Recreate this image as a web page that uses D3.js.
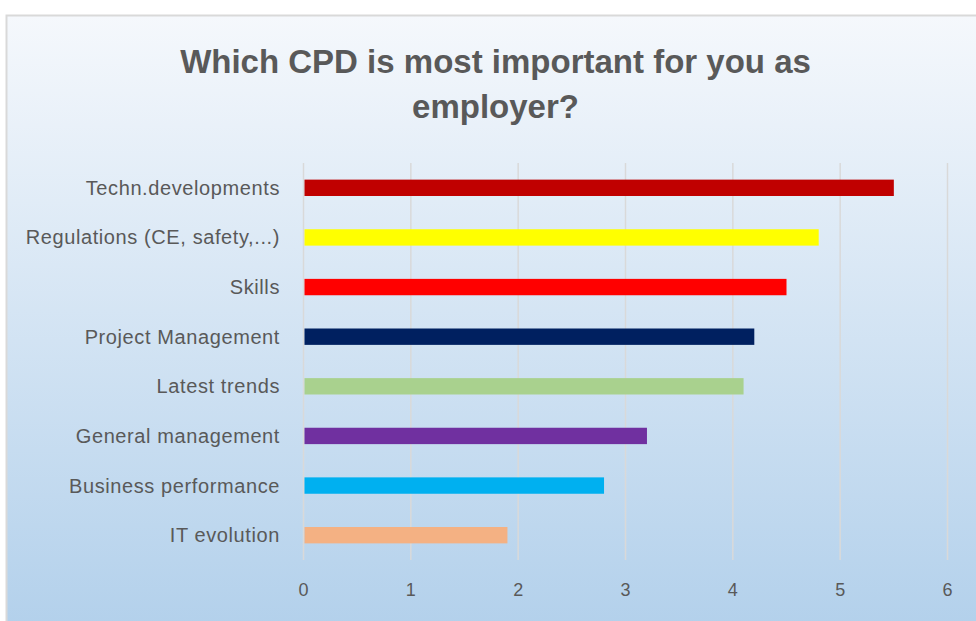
<!DOCTYPE html>
<html>
<head>
<meta charset="utf-8">
<script src="https://cdn.jsdelivr.net/npm/d3@7"></script>
<style>
  html, body { margin: 0; padding: 0; background: #fff; }
  svg { display: block; }
</style>
</head>
<body>
<svg id="chart" width="976" height="621"></svg>
<script>
"use strict";

const categories = [
   "Techn.developments",
   "Regulations (CE, safety,...)",
   "Skills",
   "Project Management",
   "Latest trends",
   "General management",
   "Business performance",
   "IT evolution"
];
const values = [5.5, 4.8, 4.5, 4.2, 4.1, 3.2, 2.8, 1.9];
const barColors = ["#C00000", "#FFFF00", "#FF0000", "#002060", "#A9D18E", "#7030A0", "#00B0F0", "#F4B183"];
const xTicks = [0, 1, 2, 3, 4, 5, 6];

const svg = d3.select("#chart");
const font = "'Liberation Sans', Arial, sans-serif";

// background with gradient, like the office chart area
const defs = svg.append("defs");
const grad = defs.append("linearGradient")
   .attr("id", "bg")
   .attr("x1", 0).attr("y1", 0).attr("x2", 0).attr("y2", 1);
grad.append("stop").attr("offset", "0%").attr("stop-color", "#f5f8fc");
grad.append("stop").attr("offset", "100%").attr("stop-color", "#b2d0eb");

svg.append("rect")
   .attr("x", 6.5).attr("y", 15.5)
   .attr("width", 975).attr("height", 620)
   .attr("fill", "url(#bg)")
   .attr("stroke", "#d9d9d9")
   .attr("stroke-width", 2);

// title
const title = svg.append("text")
   .attr("text-anchor", "middle")
   .attr("font-family", font)
   .attr("font-weight", "bold")
   .attr("font-size", 33)
   .attr("fill", "#595959");
title.append("tspan").attr("x", 495.5).attr("y", 73).text("Which CPD is most important for you as");
title.append("tspan").attr("x", 495.5).attr("y", 118).text("employer?");

// scales
const x = d3.scaleLinear().domain([0, 6]).range([303.5, 947.5]);
const y = d3.scaleBand().domain(categories).range([163, 560]).paddingInner(0.67).paddingOuter(0.335);

// vertical gridlines
svg.append("g")
   .selectAll("line")
   .data(xTicks)
   .join("line")
   .attr("x1", d => x(d)).attr("x2", d => x(d))
   .attr("y1", 163).attr("y2", 560)
   .attr("stroke", "#d9d9d9")
   .attr("stroke-width", 1.5);

// bars
svg.append("g")
   .selectAll("rect")
   .data(values)
   .join("rect")
   .attr("x", x(0) + 1)
   .attr("y", (d, i) => y(categories[i]))
   .attr("width", d => x(d) - x(0) - 1)
   .attr("height", y.bandwidth())
   .attr("fill", (d, i) => barColors[i]);

// category labels
svg.append("g")
   .selectAll("text")
   .data(categories)
   .join("text")
   .attr("x", 280)
   .attr("y", d => y(d) + y.bandwidth() / 2)
   .attr("dy", "0.35em")
   .attr("text-anchor", "end")
   .attr("font-family", font)
   .attr("font-size", 20)
   .attr("letter-spacing", 0.6)
   .attr("fill", "#595959")
   .text(d => d);

// x tick labels
svg.append("g")
   .selectAll("text")
   .data(xTicks)
   .join("text")
   .attr("x", d => x(d))
   .attr("y", 590)
   .attr("dy", "0.35em")
   .attr("text-anchor", "middle")
   .attr("font-family", font)
   .attr("font-size", 18)
   .attr("fill", "#595959")
   .text(d => d);
</script>
</body>
</html>
